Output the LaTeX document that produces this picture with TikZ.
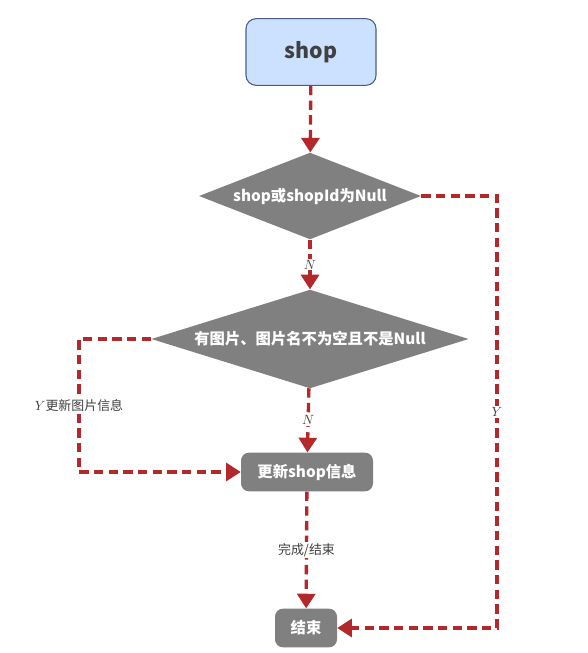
\documentclass[tikz,border=0pt]{standalone}
\usepackage{fontspec}
\usepackage{xcolor}
\usepackage{tikz}
\usetikzlibrary{shapes.geometric, arrows.meta}
\newfontfamily\cjk{Noto Sans CJK SC}
\definecolor{flowred}{HTML}{B3292B}
\definecolor{boxgray}{HTML}{808080}
\definecolor{startblue}{HTML}{CCE0FF}
\definecolor{startedge}{HTML}{4A5E8C}
\definecolor{labeltext}{HTML}{404040}

\begin{document}
\begin{tikzpicture}[
    x=0.75pt, y=-0.75pt,
    startbox/.style={rectangle, rounded corners=7.5pt, draw=startedge, line width=0.8pt,
        fill=startblue, text=black!75, font=\cjk\bfseries\fontsize{16}{19}\selectfont,
        minimum width=97.5pt, minimum height=50pt},
    decision/.style={diamond, fill=boxgray, text=white, inner sep=0pt,
        font=\cjk\bfseries\fontsize{11.5}{13}\selectfont},
    process/.style={rectangle, rounded corners=6pt, fill=boxgray, text=white,
        font=\cjk\bfseries\fontsize{11.5}{13}\selectfont, minimum height=29pt},
    flow/.style={draw=flowred, line width=2.5pt, dash pattern=on 7pt off 4pt,
        -{Triangle[length=11pt, width=13.5pt]}},
    lbl/.style={fill=white, text=labeltext, inner sep=1pt, font=\cjk\fontsize{9.7}{11}\selectfont}
]
\useasboundingbox (0,0) rectangle (588,653);

\node (shop) [startbox] at (311, 52) {shop};
\node (check) [decision, aspect=2.55, minimum width=166.5pt, minimum height=65pt] at (310, 196) {shop或shopId为Null};
\node (image) [decision, aspect=3.2, minimum width=238pt, minimum height=74pt] at (310, 339) {有图片、图片名不为空且不是Null};
\node (update) [process, minimum width=99pt] at (307, 472) {更新shop信息};
\node (finish) [process, minimum width=46.5pt] at (306, 628) {结束};

\coordinate (leftbend) at (79, 339);
\coordinate (rightbend) at (497, 196);

\draw[flow] (shop) -- (check);
\draw[flow] (check) -- node[lbl] {$N$} (image);
\draw[flow] (image) -- node[lbl] {$N$} (update);
\draw[flow] (update) -- node[lbl] {完成/结束} (finish);

\draw[flow] (image.west) -- (leftbend) |- node[lbl, pos=0.25] {$Y$更新图片信息} (update.west);
\draw[flow] (check.east) -- (rightbend) |- node[lbl, pos=0.25] {$Y$} (finish.east);

\end{tikzpicture}
\end{document}
